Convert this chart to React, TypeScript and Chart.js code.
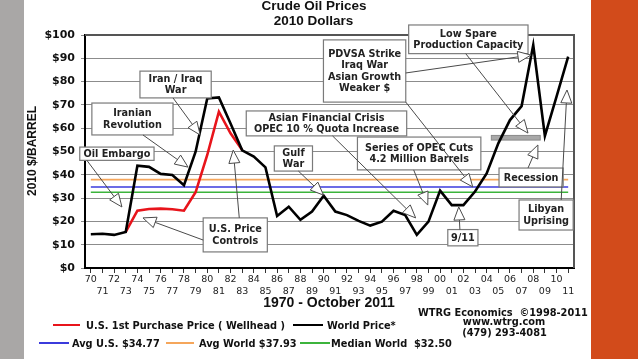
import React, { useEffect, useRef } from 'react';
import { Chart, registerables } from 'chart.js';

Chart.register(...registerables);

// ---- data ----
const yearLabels = ['70','71','72','73','74','75','76','77','78','79','80','81','82','83','84','85','86','87','88','89','90','91','92','93','94','95','96','97','98','99','00','01','02','03','04','05','06','07','08','09','10','11'];

const worldPrice = [14.5, 14.7, 14.2, 15.5, 43.9, 43.4, 40.4, 39.9, 35.5, 49.9,
  72.8, 73.2, 62.0, 50.5, 47.8, 43.2, 22.3, 26.3, 20.7, 24.2,
  31.0, 24.2, 22.7, 20.2, 18.2, 19.9, 24.6, 22.7, 14.2, 19.9,
  33.2, 27.0, 27.0, 32.8, 40.6, 53.5, 63.5, 69.5, 95.7, 56.7, 73.5, 90.7];

const usWellhead = [null, null, null, 15.5, 24.6, 25.3, 25.5, 25.2, 24.6, 32.5,
  48.5, 67.1, 57.8, 50.6, null, null, null, null, null, null,
  null, null, null, null, null, null, null, null, null, null,
  null, null, null, null, null, null, null, null, null, null, null, null];

const avgUS = 34.77;
const avgWorld = 37.93;
const medianWorld = 32.5;

const yMin = 0;
const yMax = 100;
const yStep = 10;

const seriesUS = 'U.S. 1st Purchase Price ( Wellhead )';
const seriesWorld = 'World Price*';
const labelAvgUS = 'Avg U.S. $' + avgUS.toFixed(2);
const labelAvgWorld = 'Avg World $' + avgWorld.toFixed(2);
const labelMedian = 'Median World  $' + medianWorld.toFixed(2);

// annotation boxes: box = [xIdx0, xIdx1, valTop, valBottom]; arrows = [fromIdx, fromVal, tipIdx, tipVal]
const annotations = [
  { text: ['Oil Embargo'], box: [-0.95, 5.43, 51.9, 46.2], arrows: [[-0.34, 46.2, 2.67, 26.2]] },
  { text: ['Iranian', 'Revolution'], box: [0.09, 7.06, 70.8, 57.1], arrows: [[4.48, 57.1, 8.35, 43.3]] },
  { text: ['Iran / Iraq', 'War'], box: [4.22, 10.34, 84.5, 73.0], arrows: [[7.06, 73.0, 9.39, 57.1]] },
  { text: ['Asian Financial Crisis', 'OPEC 10 % Quota Increase'], box: [13.35, 27.13, 67.4, 56.7], arrows: [[20.76, 56.7, 27.9, 21.5]] },
  { text: ['Gulf', 'War'], box: [15.76, 19.04, 52.4, 41.6], arrows: [[17.83, 41.6, 19.98, 31.3]] },
  { text: ['U.S. Price', 'Controls'], box: [9.65, 15.16, 21.5, 6.9], arrows: [[9.65, 12.0, 4.48, 21.5], [12.75, 21.5, 12.23, 50.6]] },
  { text: ['PDVSA Strike', 'Iraq War', 'Asian Growth', 'Weaker $'], box: [19.98, 27.05, 97.9, 71.2], arrows: [[27.05, 83.7, 37.8, 91.4], [27.05, 71.2, 32.8, 34.8]] },
  { text: ['Low Spare', 'Production Capacity'], box: [27.3, 37.55, 104.3, 92.0], arrows: [[32.2, 92.0, 37.55, 57.9]] },
  { text: ['Series of OPEC Cuts', '4.2 Million Barrels'], box: [22.9, 33.5, 56.2, 42.1], arrows: [[27.73, 42.1, 28.94, 27.0]] },
  { text: ['Recession'], box: [35.06, 40.57, 42.9, 34.8], arrows: [[37.55, 42.9, 38.4, 52.8]] },
  { text: ['Libyan', 'Uprising'], box: [36.78, 41.43, 29.2, 16.3], arrows: [[40.4, 29.2, 40.9, 76.4]] },
  { text: ['9/11'], box: [30.66, 33.25, 16.5, 9.5], arrows: [[31.7, 16.5, 31.6, 26.2]] },
];

const spareBar = [34.4, 38.6, 56.9, 54.9];

const RED = '#e8141b';
const BLUE = '#3b3bdc';
const ORANGE = '#f5a65b';
const GREEN = '#3cb43c';

const annFont = 'bold 9.7px "DejaVu Sans", Verdana, sans-serif';
const legFont = 'bold 9.8px "DejaVu Sans", Verdana, sans-serif';

function drawArrow(ctx: CanvasRenderingContext2D, x0: number, y0: number, x1: number, y1: number) {
  const dx = x1 - x0, dy = y1 - y0;
  const len = Math.sqrt(dx * dx + dy * dy) || 1;
  const ux = dx / len, uy = dy / len;
  const hl = Math.min(13, len);
  const hw = 5.5;
  const bx = x1 - ux * hl, by = y1 - uy * hl;
  ctx.save();
  ctx.strokeStyle = '#4a4a4a';
  ctx.lineWidth = 1;
  ctx.beginPath();
  ctx.moveTo(x0, y0);
  ctx.lineTo(bx, by);
  ctx.stroke();
  ctx.beginPath();
  ctx.moveTo(x1, y1);
  ctx.lineTo(bx - uy * hw, by + ux * hw);
  ctx.lineTo(bx + uy * hw, by - ux * hw);
  ctx.closePath();
  ctx.fillStyle = '#ffffff';
  ctx.fill();
  ctx.stroke();
  ctx.restore();
}

const overlay = {
  id: 'overlay',
  beforeDatasetsDraw(chart: any) {
    const { ctx, scales } = chart;
    const xs = scales.x, ys = scales.y;
    const a = chart.chartArea;
    ctx.save();
    // top & right frame
    ctx.strokeStyle = '#555';
    ctx.lineWidth = 2;
    ctx.beginPath();
    ctx.moveTo(a.left, a.top);
    ctx.lineTo(a.right, a.top);
    ctx.lineTo(a.right, a.bottom);
    ctx.stroke();
    // grey spare capacity bar
    const bx0 = xs.getPixelForValue(spareBar[0]);
    const bx1 = xs.getPixelForValue(spareBar[1]);
    const by0 = ys.getPixelForValue(spareBar[2]);
    const by1 = ys.getPixelForValue(spareBar[3]);
    ctx.fillStyle = '#a8a8a8';
    ctx.fillRect(bx0, by0, bx1 - bx0, by1 - by0);
    ctx.strokeStyle = '#8a8a8a';
    ctx.lineWidth = 1;
    ctx.strokeRect(bx0, by0, bx1 - bx0, by1 - by0);
    ctx.restore();
  },
  afterDatasetsDraw(chart: any) {
    const { ctx, scales } = chart;
    const xs = scales.x, ys = scales.y;
    ctx.save();
    annotations.forEach((an) => {
      const x0 = xs.getPixelForValue(an.box[0]);
      const x1 = xs.getPixelForValue(an.box[1]);
      const y0 = ys.getPixelForValue(an.box[2]);
      const y1 = ys.getPixelForValue(an.box[3]);
      ctx.fillStyle = '#ffffff';
      ctx.fillRect(x0, y0, x1 - x0, y1 - y0);
      ctx.strokeStyle = '#7a7a7a';
      ctx.lineWidth = 1.2;
      ctx.strokeRect(x0, y0, x1 - x0, y1 - y0);
      ctx.fillStyle = '#222';
      ctx.font = annFont;
      ctx.textAlign = 'center';
      ctx.textBaseline = 'middle';
      const lh = 11.3;
      const cx = (x0 + x1) / 2;
      const cy = (y0 + y1) / 2;
      const n = an.text.length;
      an.text.forEach((t, i) => {
        ctx.fillText(t, cx, cy + (i - (n - 1) / 2) * lh + 0.5);
      });
    });
    annotations.forEach((an) => {
      an.arrows.forEach((ar) => {
        drawArrow(ctx,
          xs.getPixelForValue(ar[0]), ys.getPixelForValue(ar[1]),
          xs.getPixelForValue(ar[2]), ys.getPixelForValue(ar[3]));
      });
    });
    ctx.restore();
  },
  afterDraw(chart: any) {
    const { ctx } = chart;
    ctx.save();
    ctx.fillStyle = '#111';
    // title
    ctx.font = 'bold 13.5px "Liberation Sans", Arial, sans-serif';
    ctx.textAlign = 'center';
    ctx.textBaseline = 'alphabetic';
    ctx.fillText('Crude Oil Prices', 314, 9.5);
    ctx.fillText('2010 Dollars', 313.5, 24.5);
    // x title
    ctx.font = 'bold 14px "Liberation Sans", Arial, sans-serif';
    ctx.fillText('1970 - October 2011', 329, 307);
    // y title
    ctx.save();
    ctx.translate(33, 151);
    ctx.rotate(-Math.PI / 2);
    ctx.font = 'bold 12px "Liberation Sans", Arial, sans-serif';
    ctx.textBaseline = 'middle';
    ctx.fillText('2010 $/BARREL', 0, 0);
    ctx.restore();
    // legend
    const seg = (c: string, xa: number, xb: number, y: number) => {
      ctx.strokeStyle = c;
      ctx.lineWidth = 2;
      ctx.beginPath();
      ctx.moveTo(xa, y);
      ctx.lineTo(xb, y);
      ctx.stroke();
    };
    ctx.font = legFont;
    ctx.textAlign = 'left';
    ctx.textBaseline = 'alphabetic';
    ctx.fillStyle = '#111';
    seg(RED, 53, 80, 325);
    ctx.fillText(seriesUS, 86, 328.5);
    seg('#000', 293, 323, 325);
    ctx.fillText(seriesWorld, 327, 328.5);
    seg(BLUE, 39, 69, 343);
    ctx.fillText(labelAvgUS, 72, 346.5);
    seg(ORANGE, 166, 194, 343);
    ctx.fillText(labelAvgWorld, 199, 346.5);
    seg(GREEN, 300, 330, 343);
    ctx.fillText(labelMedian, 331, 346.5);
    // credits
    ctx.fillText('WTRG Economics  \u00a91998-2011', 418, 315.5);
    ctx.textAlign = 'center';
    ctx.fillText('www.wtrg.com', 504, 325);
    ctx.fillText('(479) 293-4081', 504.5, 335.5);
    ctx.restore();
  },
};

export default function App() {
  const ref = useRef<HTMLCanvasElement>(null);
  useEffect(() => {
    if (!ref.current) return;
    const chart = new Chart(ref.current, {
      type: 'line',
      data: {
        labels: yearLabels,
        datasets: [
          { label: seriesWorld, data: worldPrice, borderColor: '#000', borderWidth: 2.6, pointRadius: 0, tension: 0, fill: false },
          { label: seriesUS, data: usWellhead as any, borderColor: RED, borderWidth: 2.6, pointRadius: 0, tension: 0, fill: false, spanGaps: false },
          { label: labelAvgWorld, data: yearLabels.map(() => avgWorld), borderColor: ORANGE, borderWidth: 1.6, pointRadius: 0, fill: false },
          { label: labelAvgUS, data: yearLabels.map(() => avgUS), borderColor: BLUE, borderWidth: 1.6, pointRadius: 0, fill: false },
          { label: labelMedian, data: yearLabels.map(() => medianWorld), borderColor: GREEN, borderWidth: 1.6, pointRadius: 0, fill: false },
        ],
      },
      options: {
        responsive: false,
        maintainAspectRatio: false,
        animation: false,
        devicePixelRatio: 1,
        layout: { padding: { left: 0, right: 64, top: 35, bottom: 0 } },
        plugins: { legend: { display: false }, tooltip: { enabled: false }, title: { display: false } },
        scales: {
          x: {
            type: 'category',
            offset: true,
            grid: { display: true, drawOnChartArea: false, drawTicks: true, tickLength: 5, color: '#333', lineWidth: 1, offset: false },
            border: { display: true, color: '#000', width: 2 },
            ticks: {
              autoSkip: false, maxRotation: 0, minRotation: 0, padding: 1, color: '#222',
              font: { family: '"DejaVu Sans", Verdana, sans-serif', size: 9.5, lineHeight: 1.25 },
              callback: (_v: any, i: number) => (i % 2 === 0 ? yearLabels[i] : ['', yearLabels[i]]),
            },
            afterFit: (s: any) => { s.height = 91; },
          },
          y: {
            min: yMin,
            max: yMax,
            ticks: {
              stepSize: yStep, padding: 6, color: '#111',
              font: { family: '"DejaVu Sans", Verdana, sans-serif', size: 11, weight: 'bold' },
              callback: (v: any) => '$' + v,
            },
            grid: { color: '#8c8c8c', lineWidth: 1, tickLength: 4 },
            border: { display: true, color: '#000', width: 2 },
            afterFit: (s: any) => { s.width = 85; },
          },
        },
      },
      plugins: [overlay],
    } as any);
    return () => chart.destroy();
  }, []);

  return (
    <div style={{ position: 'fixed', left: 0, top: 0, width: 638, height: 359, background: '#fff', overflow: 'hidden' }}>
      <div style={{ position: 'absolute', left: 0, top: 0, width: 24, height: 359, background: '#a9a7a6' }} />
      <div style={{ position: 'absolute', left: 591, top: 0, width: 47, height: 359, background: '#d24b1b' }} />
      <canvas ref={ref} width={638} height={359} style={{ position: 'absolute', left: 0, top: 0, width: 638, height: 359, display: 'block' }} />
    </div>
  );
}
